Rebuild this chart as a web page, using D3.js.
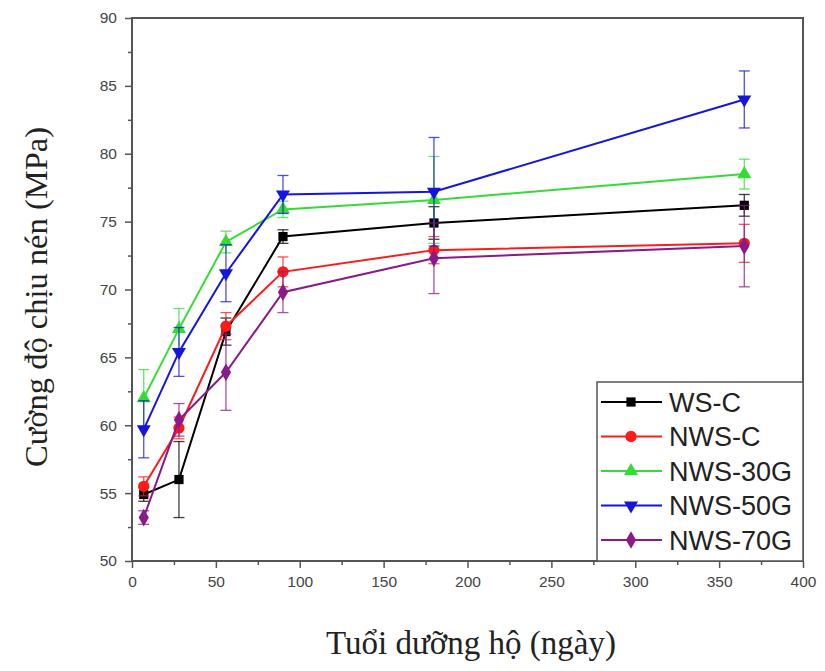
<!DOCTYPE html>
<html><head><meta charset="utf-8">
<script src="https://cdn.jsdelivr.net/npm/d3@7/dist/d3.min.js"></script>
<style>body{margin:0;background:#fff}</style>
</head><body>
<svg id="c" width="825" height="671"></svg>
<script>
const days = [7, 28, 56, 90, 180, 365];
const seriesNames = ["WS-C", "NWS-C", "NWS-30G", "NWS-50G", "NWS-70G"];
const wsC    = [54.9, 56.0, 66.9, 73.9, 74.9, 76.2];
const nwsC   = [55.5, 59.8, 67.3, 71.3, 72.9, 73.4];
const nws30G = [62.0, 67.1, 73.5, 75.9, 76.6, 78.5];
const nws50G = [59.7, 65.4, 71.2, 77.0, 77.2, 84.0];
const nws70G = [53.2, 60.4, 63.9, 69.8, 72.3, 73.2];
const errWsC    = [0.5, 2.8, 1.0, 0.5, 1.2, 0.8];
const errNwsC   = [0.7, 0.8, 1.0, 1.1, 1.0, 1.4];
const errNws30G = [2.1, 1.5, 0.8, 0.6, 3.2, 1.1];
const errNws50G = [2.1, 1.8, 2.1, 1.4, 4.0, 2.1];
const errNws70G = [0.5, 1.2, 2.8, 1.5, 2.6, 3.0];
const xTicks = [0, 50, 100, 150, 200, 250, 300, 350, 400];
const yTicks = [50, 55, 60, 65, 70, 75, 80, 85, 90];
const xTitle = "Tuổi dưỡng hộ (ngày)";
const yTitle = "Cường độ chịu nén (MPa)";

const colors = ["#000000", "#ff1a1a", "#33dd33", "#1515e0", "#8a1a8a"];
const symbols = [d3.symbolSquare, d3.symbolCircle, d3.symbolTriangle, d3.symbolTriangle, d3.symbolDiamond];
const rotations = [0, 0, 0, 180, 0];
const symSizes = [85, 100, 85, 85, 90];

const vals = [wsC, nwsC, nws30G, nws50G, nws70G];
const errs = [errWsC, errNwsC, errNws30G, errNws50G, errNws70G];
const series = seriesNames.map((n, i) => ({name: n, color: colors[i], sym: symbols[i], rot: rotations[i], size: symSizes[i],
  pts: days.map((d, j) => ({x: d, y: vals[i][j], e: errs[i][j]}))}));

const L = 132, R = 803, T = 18, B = 561;
const svg = d3.select("#c");
const x = d3.scaleLinear().domain([0, 400]).range([L, R]);
const y = d3.scaleLinear().domain([50, 90]).range([B, T]);
const axisCol = "#555";

// minor ticks
const gxm = svg.append("g").attr("transform", `translate(0,${B})`)
  .call(d3.axisBottom(x).tickValues(d3.range(25, 400, 50)).tickSize(4).tickFormat(""));
const gym = svg.append("g").attr("transform", `translate(${L},0)`)
  .call(d3.axisLeft(y).tickValues(d3.range(52.5, 90, 5)).tickSize(4).tickFormat(""));
[gxm, gym].forEach(g => { g.select(".domain").remove(); g.selectAll("line").attr("stroke", axisCol).attr("stroke-width", 1.5); });

const gx = svg.append("g").attr("transform", `translate(0,${B})`)
  .call(d3.axisBottom(x).tickValues(xTicks).tickSize(7).tickPadding(8).tickFormat(d3.format("d")));
const gy = svg.append("g").attr("transform", `translate(${L},0)`)
  .call(d3.axisLeft(y).tickValues(yTicks).tickSize(7).tickPadding(8).tickFormat(d3.format("d")));
[gx, gy].forEach(g => {
  g.select(".domain").remove();
  g.selectAll("line").attr("stroke", axisCol).attr("stroke-width", 1.5);
  g.selectAll("text").attr("font-family", "Liberation Sans, Arial, sans-serif").attr("font-size", 15.5).attr("fill", "#444");
});

// frame
svg.append("rect").attr("x", L).attr("y", T).attr("width", R - L).attr("height", B - T)
  .attr("fill", "none").attr("stroke", axisCol).attr("stroke-width", 2);

const line = d3.line().x(d => x(d.x)).y(d => y(d.y));
series.forEach(s => {
  const g = svg.append("g");
  g.append("path").datum(s.pts).attr("d", line).attr("fill", "none").attr("stroke", s.color).attr("stroke-width", 2);
  s.pts.forEach(p => {
    const cx = x(p.x), y1 = y(p.y + p.e), y2 = y(p.y - p.e);
    g.append("line").attr("x1", cx).attr("x2", cx).attr("y1", y1).attr("y2", y2).attr("stroke", s.color).attr("stroke-width", 1.3).attr("opacity", 0.75);
    [y1, y2].forEach(yy => g.append("line").attr("x1", cx - 5.5).attr("x2", cx + 5.5).attr("y1", yy).attr("y2", yy)
      .attr("stroke", s.color).attr("stroke-width", 1.3).attr("opacity", 0.75));
  });
  g.selectAll("path.m").data(s.pts).join("path").attr("class", "m")
    .attr("d", d3.symbol().type(s.sym).size(s.size))
    .attr("transform", d => `translate(${x(d.x)},${y(d.y)}) rotate(${s.rot})`)
    .attr("fill", s.color);
});

// legend
const lg = svg.append("g");
lg.append("rect").attr("x", 597).attr("y", 382).attr("width", R - 597).attr("height", B - 382)
  .attr("fill", "#fff").attr("stroke", axisCol).attr("stroke-width", 1.5);
series.forEach((s, i) => {
  const yy = 402 + i * 34.5;
  lg.append("line").attr("x1", 601).attr("x2", 662).attr("y1", yy).attr("y2", yy).attr("stroke", s.color).attr("stroke-width", 2);
  lg.append("path").attr("d", d3.symbol().type(s.sym).size(s.size)).attr("transform", `translate(631,${yy}) rotate(${s.rot})`).attr("fill", s.color);
  lg.append("text").attr("x", 669).attr("y", yy).attr("dy", "0.36em").text(s.name)
    .attr("font-family", "Liberation Sans, Arial, sans-serif").attr("font-size", 27).attr("fill", "#222");
});

// titles
svg.append("text").attr("x", 471).attr("y", 654).attr("text-anchor", "middle").text(xTitle)
  .attr("font-family", "Liberation Serif, Times New Roman, serif").attr("font-size", 33).attr("fill", "#222");
svg.append("text").attr("transform", `translate(47,297) rotate(-90)`).attr("text-anchor", "middle").text(yTitle)
  .attr("font-family", "Liberation Serif, Times New Roman, serif").attr("font-size", 32.5).attr("fill", "#222");
</script>
</body></html>
